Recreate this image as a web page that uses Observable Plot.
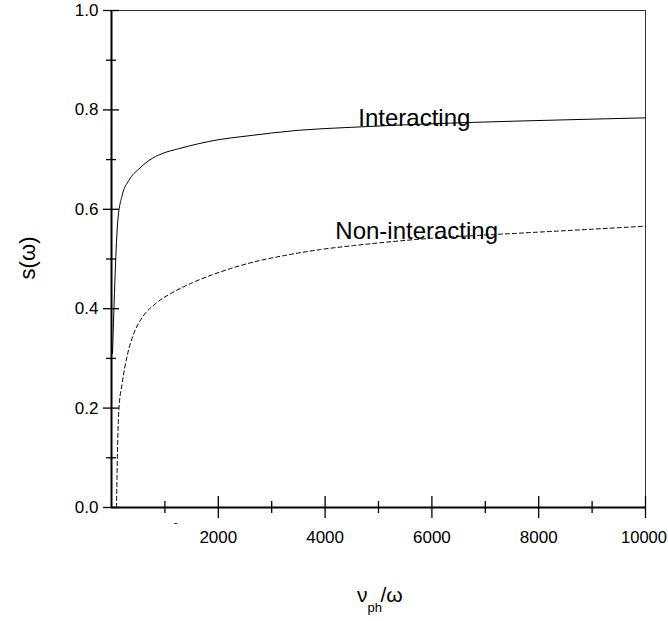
<!DOCTYPE html>
<html>
<head>
<meta charset="utf-8">
<script src="https://cdn.jsdelivr.net/npm/d3@7"></script>
<script src="https://cdn.jsdelivr.net/npm/@observablehq/plot@0.6"></script>
<style>
  html, body { margin: 0; padding: 0; background: #fff; }
  #chart { width: 668px; height: 621px; }
</style>
</head>
<body>
<div id="chart"></div>
<script>
// Tick values
const xMajor = [2000, 4000, 6000, 8000, 10000];
const xMinor = [1000, 3000, 5000, 7000, 9000];
const yMajor = [0, 0.2, 0.4, 0.6, 0.8, 1.0];
const yMinor = [0.1, 0.3, 0.5, 0.7, 0.9];

// Interacting (solid)
const interX = [19, 118, 200, 324, 511, 698, 948, 1260, 1633, 2000, 2500, 3500, 4500, 5500, 6800, 8500, 10000];
const interY = [0.31, 0.577, 0.628, 0.658, 0.681, 0.698, 0.712, 0.722, 0.732, 0.740, 0.747, 0.759, 0.765, 0.770, 0.775, 0.780, 0.784];

// Non-interacting (dashed)
const nonX = [94, 106, 137, 200, 293, 418, 573, 823, 1135, 1509, 2039, 2662, 3287, 3910, 4533, 5157, 6030, 7300, 8500, 10000];
const nonY = [0, 0.08, 0.195, 0.25, 0.305, 0.35, 0.382, 0.41, 0.432, 0.452, 0.474, 0.494, 0.508, 0.519, 0.527, 0.534, 0.542, 0.55, 0.557, 0.566];

// Curve labels
const curveLabels = [
  {x: 4621, y: 0.767, label: "Interacting"},
  {x: 4191, y: 0.541, label: "Non-interacting"}
];

const W = 668, H = 621;
const mL = 111, mR = 23, mT = 10, mB = 114;
const plotW = W - mL - mR, plotH = H - mT - mB;

const inter = interX.map((x, i) => ({x, y: interY[i]}));
const non = nonX.map((x, i) => ({x, y: nonY[i]}));

const font = "'Liberation Sans', Arial, Helvetica, sans-serif";

const chart = Plot.plot({
  width: W,
  height: H,
  marginLeft: mL,
  marginRight: mR,
  marginTop: mT,
  marginBottom: mB,
  style: {fontFamily: font, background: "#fff", color: "#000", overflow: "visible"},
  x: {domain: [0, 10000], axis: null},
  y: {domain: [0, 1], axis: null},
  marks: [
    // frame: thin top and right
    Plot.ruleY([1], {stroke: "#333", strokeWidth: 1}),
    Plot.ruleX([10000], {stroke: "#333", strokeWidth: 1}),
    // y ticks crossing axis
    Plot.tickY(yMajor, {y: d => d, dx: -8, insetRight: plotW - 16, stroke: "#000", strokeWidth: 1.3}),
    Plot.tickY(yMinor, {y: d => d, dx: -5, insetRight: plotW - 10, stroke: "#000", strokeWidth: 1.3}),
    // x ticks crossing axis
    Plot.tickX(xMajor, {x: d => d, dy: 11, insetTop: plotH - 22, stroke: "#000", strokeWidth: 1.3}),
    Plot.tickX(xMinor, {x: d => d, dy: 6, insetTop: plotH - 12, stroke: "#000", strokeWidth: 1.3}),
    // main axes (thick)
    Plot.ruleX([0], {stroke: "#000", strokeWidth: 2}),
    Plot.ruleY([0], {stroke: "#000", strokeWidth: 2}),
    // y tick labels
    Plot.text(yMajor, {y: d => d, frameAnchor: "left", dx: -13, textAnchor: "end", text: d => d.toFixed(1), fontSize: 17, fill: "#000"}),
    // x tick labels
    Plot.text(xMajor.slice(0, -1), {x: d => d, frameAnchor: "bottom", dy: 30, lineAnchor: "middle", text: d => String(d), fontSize: 17, fill: "#000"}),
    Plot.text(xMajor.slice(-1), {x: d => d, frameAnchor: "bottom", dy: 30, dx: -1.5, lineAnchor: "middle", text: d => String(d), fontSize: 16.5, fill: "#000"}),
    // stray mark below axis
    Plot.text([1200], {x: d => d, frameAnchor: "bottom", dy: 15, lineAnchor: "middle", text: () => "-", fontSize: 11, fill: "#000"}),
    // curves
    Plot.line(inter, {x: "x", y: "y", stroke: "#000", strokeWidth: 1, curve: "monotone-x"}),
    Plot.line(non, {x: "x", y: "y", stroke: "#000", strokeWidth: 1, strokeDasharray: "4,3", curve: "monotone-x"}),
    // curve labels
    Plot.text(curveLabels, {x: "x", y: "y", text: "label", textAnchor: "start", lineAnchor: "bottom", fontSize: 24, fill: "#000"}),
    // y axis label
    Plot.text([0.459], {y: d => d, frameAnchor: "left", dx: -84, rotate: -90, text: () => "s(ω)", fontSize: 22, fill: "#000", lineAnchor: "middle"}),
    // x axis label: ν_ph/ω
    Plot.text(["ν"], {frameAnchor: "bottom", dx: -11, dy: 94, textAnchor: "end", lineAnchor: "bottom", text: d => d, fontSize: 21, fill: "#000"}),
    Plot.text(["ph"], {frameAnchor: "bottom", dx: -11, dy: 104, textAnchor: "start", lineAnchor: "bottom", text: d => d, fontSize: 13, fill: "#000"}),
    Plot.text(["/ω"], {frameAnchor: "bottom", dx: 2, dy: 94, textAnchor: "start", lineAnchor: "bottom", text: d => d, fontSize: 21, fill: "#000"})
  ]
});

document.getElementById("chart").appendChild(chart);
</script>
</body>
</html>
